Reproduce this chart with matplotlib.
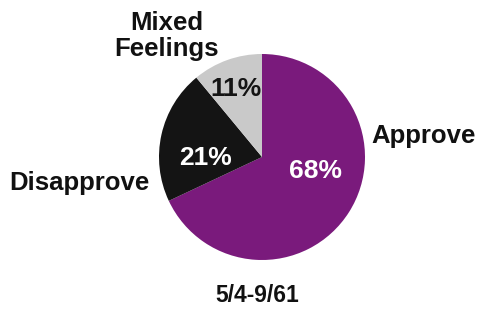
import matplotlib
matplotlib.use('Agg')
import matplotlib.pyplot as plt

# Data
labels = ['Approve', 'Disapprove', 'Mixed\nFeelings']
values = [68, 21, 11]
colors = ['#7a1a7c', '#141414', '#c9c9c9']
pct_colors = ['white', 'white', '#141414']
caption = '5/4-9/61'

FONT = 'Liberation Sans'

fig = plt.figure(figsize=(4.8, 3.1), dpi=100)
ax = fig.add_axes([0, 0, 1, 1])

cx, cy, r = 262, 310 - 157, 103
ax.pie(values, colors=colors, startangle=90, counterclock=False,
       center=(cx, cy), radius=r, frame=True,
       wedgeprops=dict(linewidth=0))
ax.set_xlim(0, 480)
ax.set_ylim(0, 310)
ax.set_aspect('equal')
ax.axis('off')

# percent labels (pixel positions)
pct_pos = [(315, 171), (205, 158), (236, 89)]
for v, (px, py), c in zip(values, pct_pos, pct_colors):
    ax.text(px, 310 - py, f'{v}%', color=c, fontsize=19, fontweight='bold',
            family=FONT, ha='center', va='center')

# category labels
lab_pos = [(424, 136), (79, 183), (167, 36)]
for lab, (px, py) in zip(labels, lab_pos):
    ax.text(px, 310 - py, lab, color='#111111', fontsize=18.5, fontweight='bold',
            family=FONT, ha='center', va='center', linespacing=1.12)

ax.text(257, 310 - 296, caption, color='#111111', fontsize=16.5,
        fontweight='bold', family=FONT, ha='center', va='center')

fig.savefig('out.png', dpi=100)
